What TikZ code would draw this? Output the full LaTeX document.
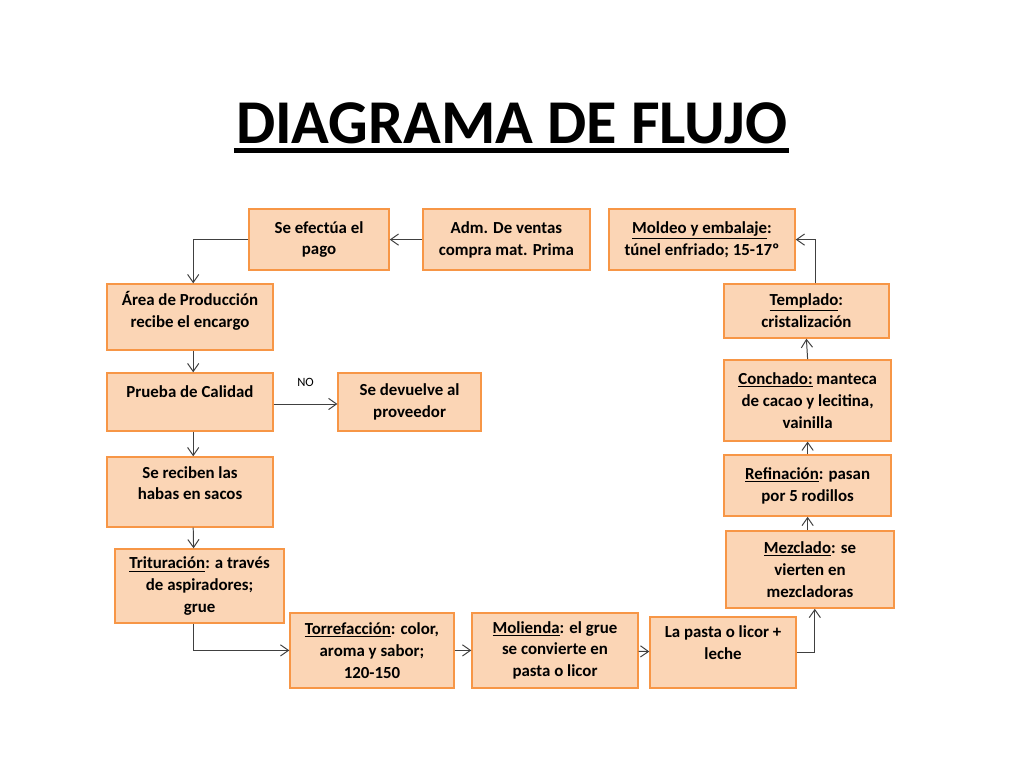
\documentclass[tikz,border=0pt]{standalone}
\usepackage{fontspec}
\setmainfont{Carlito}
\usetikzlibrary{arrows.meta}
\usepackage{xcolor}
\definecolor{boxfill}{HTML}{FBD5B5}
\definecolor{boxline}{HTML}{F79646}
\definecolor{wire}{HTML}{404040}

\begin{document}
\begin{tikzpicture}[every node/.style={font=\fontsize{12}{15.5}\selectfont\bfseries}]
  \tikzstyle{process} = [rectangle, align=center, draw=boxline, line width=1pt, fill=boxfill, inner sep=2pt]
  \tikzstyle{arrow} = [draw=wire, line width=0.7pt, -{Straight Barb[length=2mm,width=2.8mm]}]
  \useasboundingbox (0,0) rectangle (25.6,19.2);

  \node (title) [font=\fontsize{44.3}{52}\selectfont\bfseries, inner sep=0pt, anchor=base] at (12.79,15.62) {DIAGRAMA DE FLUJO};
  \draw [line width=1.25mm] ([yshift=-0.19cm, xshift=-0.05cm]title.base west) -- ([yshift=-0.19cm, xshift=0.05cm]title.base east);

  % fila superior
  \node (pago) [process, minimum width=3.5cm, minimum height=1.525cm] at (7.975,13.21) {Se efectúa el\\pago};
  \node (adm) [process, minimum width=4.175cm, minimum height=1.525cm] at (12.66,13.21) {Adm. De ventas\\compra mat. Prima};
  \node (moldeo) [process, minimum width=4.65cm, minimum height=1.525cm] at (17.55,13.21) {\underline{Moldeo y embalaje}:\\túnel enfriado; 15-17º};

  % columna izquierda
  \node (area) [process, minimum width=4.15cm, minimum height=1.65cm, text depth=0.38cm] at (4.75,11.275) {Área de Producción\\recibe el encargo};
  \node (prueba) [process, minimum width=4.15cm, minimum height=1.45cm, text depth=0.5cm] at (4.75,9.15) {Prueba de Calidad};
  \node (devuelve) [process, minimum width=3.575cm, minimum height=1.45cm] at (10.24,9.15) {Se devuelve al\\proveedor};
  \node (recibe) [process, minimum width=4.15cm, minimum height=1.75cm, text depth=0.45cm] at (4.75,6.9) {Se reciben las\\habas en sacos};
  \node (tritura) [process, minimum width=4.225cm, minimum height=1.85cm] at (4.99,4.55) {\underline{Trituración}: a través\\de aspiradores;\\grue};

  % fila inferior
  \node (torre) [process, minimum width=4.1cm, minimum height=1.875cm] at (9.3,2.94) {\underline{Torrefacción}: color,\\aroma y sabor;\\120-150};
  \node (molienda) [process, minimum width=4.15cm, minimum height=1.875cm] at (13.875,2.94) {\underline{Molienda}: el grue\\se convierte en\\pasta o licor};
  \node (pasta) [process, minimum width=3.65cm, minimum height=1.775cm, text depth=0.48cm] at (18.075,2.89) {La pasta o licor +\\leche};

  % columna derecha
  \node (mezcla) [process, minimum width=4.2cm, minimum height=1.925cm] at (20.25,4.96) {\underline{Mezclado}: se\\vierten en\\mezcladoras};
  \node (refina) [process, minimum width=4.175cm, minimum height=1.525cm] at (20.19,7.06) {\underline{Refinación}: pasan\\por 5 rodillos};
  \node (concha) [process, minimum width=4.175cm, minimum height=2.025cm] at (20.19,9.19) {\underline{Conchado:} manteca\\de cacao y lecitina,\\vainilla};
  \node (templa) [process, minimum width=4.125cm, minimum height=1.35cm] at (20.16,11.425) {\underline{Templado}:\\cristalización};

  \draw [arrow] (adm) -- (pago);
  \draw [arrow] (pago.west) -| ([xshift=0.08cm]area.north);
  \draw [arrow] ([xshift=0.08cm]area.south) -- ([xshift=0.08cm]prueba.north);
  \draw [arrow] ([yshift=-0.05cm]prueba.east) -- node [above=0.3cm, font=\fontsize{9}{11}\selectfont] {NO} ([yshift=-0.05cm]devuelve.west);
  \draw [arrow] ([xshift=0.08cm]prueba.south) -- ([xshift=0.08cm]recibe.north);
  \draw [arrow] ([xshift=0.08cm]recibe.south) -- ([xshift=-0.15cm]tritura.north);
  \draw [arrow] ([xshift=-0.15cm]tritura.south) |- (torre.west);
  \draw [arrow] (torre) -- (molienda);
  \draw [arrow] (molienda) -- (pasta);
  \draw [arrow] (pasta.east) -| ([xshift=0.12cm]mezcla.south);
  \draw [arrow] ([xshift=-0.06cm]mezcla.north) -- (refina.south);
  \draw [arrow] (refina) -- (concha);
  \draw [arrow] (concha.north) -- (templa.south);
  \draw [arrow] ([xshift=0.22cm]templa.north) |- (moldeo.east);
\end{tikzpicture}
\end{document}
